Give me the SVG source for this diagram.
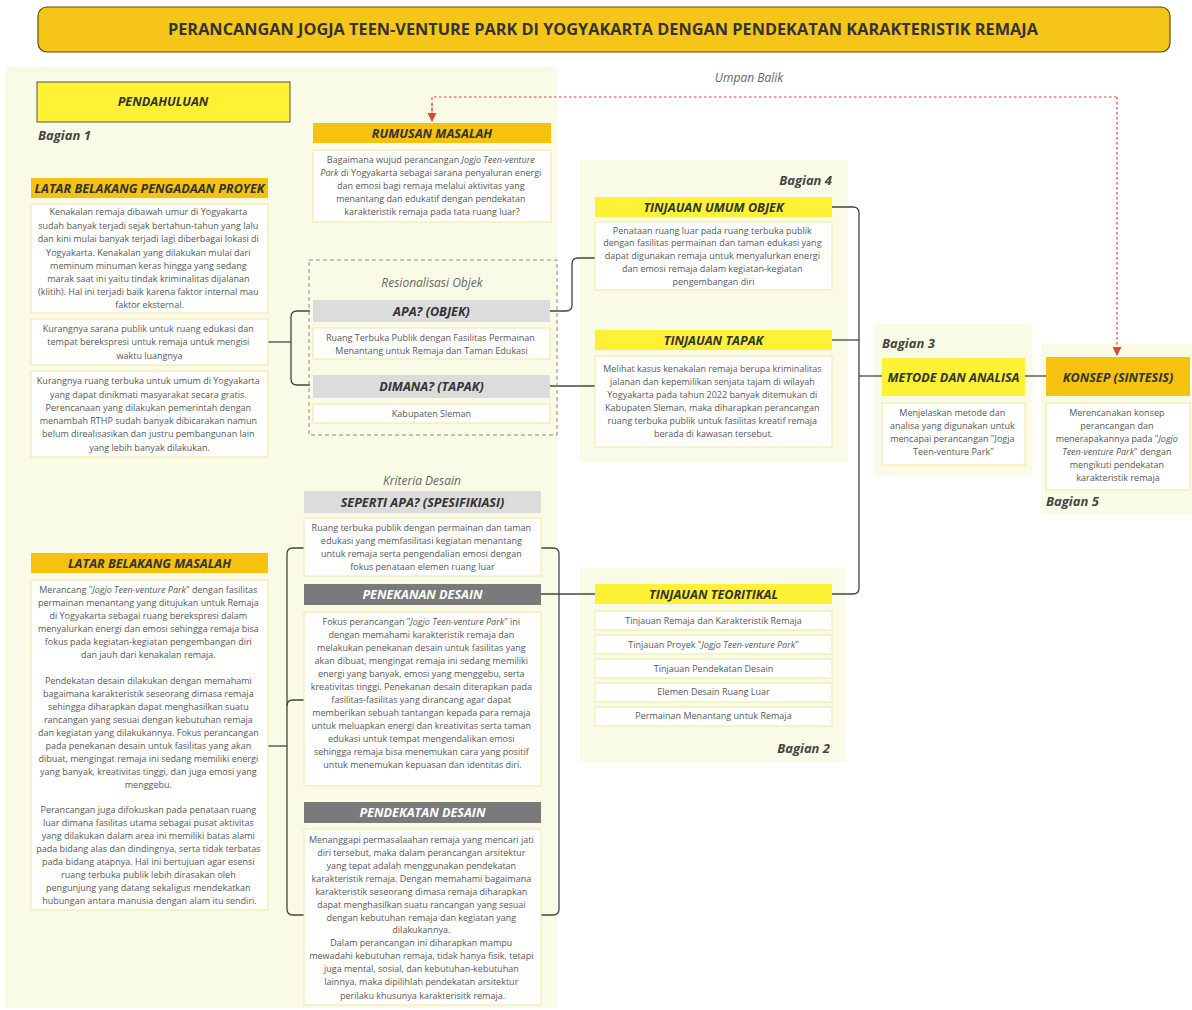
<svg xmlns="http://www.w3.org/2000/svg" width="1192" height="1010" viewBox="0 0 1192 1010">
<defs>
<style>
.panel{fill:#fafbe7}
.hg{fill:#f4c20f}
.hy{fill:#fff133}
.hl{fill:#dcdcdc}
.hd{fill:#7a7a7a}
.body{fill:#ffffff;stroke:#f1e6a6;stroke-width:1}
.ht{font-family:"Open Sans","Liberation Sans",sans-serif;font-weight:bold;font-style:italic;font-size:12.6px;fill:#333;text-anchor:middle}
.htw{fill:#ffffff}
.bt{font-family:"Open Sans","Liberation Sans",sans-serif;font-size:9px;fill:#585858;text-anchor:middle}
.bag{font-family:"Open Sans","Liberation Sans",sans-serif;font-weight:bold;font-style:italic;font-size:13px;fill:#444}
.lbl{font-family:"Open Sans","Liberation Sans",sans-serif;font-style:italic;font-size:12px;fill:#666;text-anchor:middle}
.conn{fill:none;stroke:#444;stroke-width:1.3}
.fb{fill:none;stroke:#e0453a;stroke-width:1.2;stroke-dasharray:2.5 2.5}
</style>
<marker id="redArrow" viewBox="0 0 10 10" refX="9" refY="5" markerWidth="9" markerHeight="9" markerUnits="userSpaceOnUse" orient="auto">
<path d="M0,0 L10,5 L0,10 z" fill="#e0453a"/>
</marker>
</defs>

<rect width="1192" height="1010" fill="#ffffff"/>

<g id="title">
<rect x="38" y="7" width="1132" height="45" rx="9" fill="#f5c518" stroke="#5b4b00" stroke-width="1.2"/>
<text x="603" y="35" font-family="'Open Sans','Liberation Sans',sans-serif" font-weight="bold" font-size="15.5" fill="#333" text-anchor="middle" textLength="870" lengthAdjust="spacingAndGlyphs">PERANCANGAN JOGJA TEEN-VENTURE PARK DI YOGYAKARTA DENGAN PENDEKATAN KARAKTERISTIK REMAJA</text>
</g>

<g id="panels">
<rect class="panel" x="5" y="67" width="552" height="941"/>
<rect class="panel" x="580" y="160" width="268" height="302"/>
<rect class="panel" x="580" y="568" width="265" height="194"/>
<rect class="panel" x="874" y="324" width="159" height="152"/>
<rect class="panel" x="1041" y="344" width="151" height="170"/>
</g>

<g id="connectors">
<path class="conn" d="M268,342 H291"/>
<path class="conn" d="M310,311 H297 Q291,311 291,317 V379 Q291,385 297,385 H310"/>
<path class="conn" d="M550,311 H566 Q572,311 572,305 V264 Q572,258 578,258 H595"/>
<path class="conn" d="M550,386 H595"/>
<path class="conn" d="M832,207 H853 Q859,207 859,213 V588 Q859,594 853,594 H832"/>
<path class="conn" d="M832,340 H859"/>
<path class="conn" d="M859,376 H882"/>
<path class="conn" d="M1025,376 H1046"/>
<path class="conn" d="M268,746 H287"/>
<path class="conn" d="M304,548 H293 Q287,548 287,554 V909 Q287,915 293,915 H304"/>
<path class="conn" d="M304,700 H293 Q287,700 287,706"/>
<path class="conn" d="M541,548 H553 Q559,548 559,554 V909 Q559,915 553,915 H541"/>
<path class="conn" d="M541,594 H595"/>
<path class="fb" d="M432,120 V97 H1117"/>
<path class="fb" d="M432,104 V121" marker-end="url(#redArrow)"/>
<path class="fb" d="M1117,97 V355" marker-end="url(#redArrow)"/>
<text class="lbl" x="749" y="82">Umpan Balik</text>
</g>

<g id="pendahuluan">
<rect x="37" y="82" width="253" height="40" fill="#fff133" stroke="#555" stroke-width="1"/>
<text class="ht" x="163" y="106">PENDAHULUAN</text>
<text class="bag" x="38" y="140">Bagian 1</text>
</g>

<g id="rumusan-masalah">
<rect class="hg" x="313" y="123" width="238" height="20"/>
<text class="ht" x="432" y="137.5">RUMUSAN MASALAH</text>
<rect class="body" x="313" y="150" width="238" height="72"/>
<text class="bt">
<tspan x="432" y="163">Bagaimana wujud perancangan <tspan font-style="italic">Jogjo Teen-venture</tspan></tspan>
<tspan x="432" y="176"><tspan font-style="italic">Park</tspan> di Yogyakarta sebagai sarana penyaluran energi</tspan>
<tspan x="432" y="189">dan emosi bagi remaja melalui aktivitas yang</tspan>
<tspan x="432" y="202">menantang dan edukatif dengan pendekatan</tspan>
<tspan x="432" y="215">karakteristik remaja pada tata ruang luar?</tspan>
</text>
</g>

<g id="latar-pengadaan">
<rect class="hg" x="31" y="178" width="237" height="20"/>
<text class="ht" x="149.5" y="192.5">LATAR BELAKANG PENGADAAN PROYEK</text>
<rect class="body" x="31" y="204" width="237" height="109"/>
<text class="bt">
<tspan x="149.5" y="215">Kenakalan remaja dibawah umur di Yogyakarta</tspan>
<tspan x="149.5" y="229">sudah banyak terjadi sejak bertahun-tahun yang lalu</tspan>
<tspan x="149.5" y="242">dan kini mulai banyak terjadi lagi diberbagai lokasi di</tspan>
<tspan x="149.5" y="256">Yogyakarta. Kenakalan yang dilakukan mulai dari</tspan>
<tspan x="149.5" y="269">meminum minuman keras hingga yang sedang</tspan>
<tspan x="149.5" y="282">marak saat ini yaitu tindak kriminalitas dijalanan</tspan>
<tspan x="149.5" y="295">(klitih). Hal ini terjadi baik karena faktor internal mau</tspan>
<tspan x="149.5" y="308">faktor eksternal.</tspan>
</text>
</g>

<g id="pengadaan-2">
<rect class="body" x="31" y="319" width="237" height="46"/>
<text class="bt">
<tspan x="149.5" y="332">Kurangnya sarana publik untuk ruang edukasi dan</tspan>
<tspan x="149.5" y="345">tempat berekspresi untuk remaja untuk mengisi</tspan>
<tspan x="149.5" y="359">waktu luangnya</tspan>
</text>
</g>

<g id="pengadaan-3">
<rect class="body" x="31" y="371" width="237" height="86"/>
<text class="bt">
<tspan x="149.5" y="384">Kurangnya ruang terbuka untuk umum di Yogyakarta</tspan>
<tspan x="149.5" y="398">yang dapat dinikmati masyarakat secara gratis.</tspan>
<tspan x="149.5" y="411">Perencanaan yang dilakukan pemerintah dengan</tspan>
<tspan x="149.5" y="424">menambah RTHP sudah banyak dibicarakan namun</tspan>
<tspan x="149.5" y="437">belum direalisasikan dan justru pembangunan lain</tspan>
<tspan x="149.5" y="451">yang lebih banyak dilakukan.</tspan>
</text>
</g>

<g id="resionalisasi">
<rect x="309" y="260" width="248" height="175" fill="none" stroke="#888" stroke-width="1" stroke-dasharray="4 3"/>
<text class="lbl" x="432" y="287">Resionalisasi Objek</text>
<rect class="hl" x="313" y="300" width="237" height="22"/>
<text class="ht" x="431.5" y="315.5">APA? (OBJEK)</text>
<rect class="body" x="313" y="328" width="237" height="31"/>
<text class="bt">
<tspan x="431.5" y="341">Ruang Terbuka Publik dengan Fasilitas Permainan</tspan>
<tspan x="431.5" y="354">Menantang untuk Remaja dan Taman Edukasi</tspan>
</text>
<rect class="hl" x="313" y="375" width="237" height="23"/>
<text class="ht" x="431.5" y="391">DIMANA? (TAPAK)</text>
<rect class="body" x="313" y="404" width="237" height="19"/>
<text class="bt"><tspan x="431.5" y="417">Kabupaten Sleman</tspan></text>
</g>

<g id="tinjauan-umum-objek">
<text class="bag" x="832" y="185" text-anchor="end">Bagian 4</text>
<rect class="hy" x="595" y="197" width="237" height="20"/>
<text class="ht" x="713.5" y="211.5">TINJAUAN UMUM OBJEK</text>
<rect class="body" x="595" y="222" width="237" height="68"/>
<text class="bt">
<tspan x="713.5" y="234">Penataan ruang luar pada ruang terbuka publik</tspan>
<tspan x="713.5" y="246">dengan fasilitas permainan dan taman edukasi yang</tspan>
<tspan x="713.5" y="259">dapat digunakan remaja untuk menyalurkan energi</tspan>
<tspan x="713.5" y="272">dan emosi remaja dalam kegiatan-kegiatan</tspan>
<tspan x="713.5" y="285">pengembangan diri</tspan>
</text>
</g>

<g id="tinjauan-tapak">
<rect class="hy" x="595" y="330" width="237" height="20"/>
<text class="ht" x="713.5" y="344.5">TINJAUAN TAPAK</text>
<rect class="body" x="595" y="356" width="237" height="91"/>
<text class="bt">
<tspan x="713.5" y="372">Melihat kasus kenakalan remaja berupa kriminalitas</tspan>
<tspan x="713.5" y="385">jalanan dan kepemilikan senjata tajam di wilayah</tspan>
<tspan x="713.5" y="398">Yogyakarta pada tahun 2022 banyak ditemukan di</tspan>
<tspan x="713.5" y="411">Kabupaten Sleman, maka diharapkan perancangan</tspan>
<tspan x="713.5" y="424">ruang terbuka publik untuk fasilitas kreatif remaja</tspan>
<tspan x="713.5" y="437">berada di kawasan tersebut.</tspan>
</text>
</g>

<g id="tinjauan-teoritikal">
<rect class="hy" x="595" y="584" width="237" height="20"/>
<text class="ht" x="713.5" y="598.5">TINJAUAN TEORITIKAL</text>
<rect class="body" x="595" y="611" width="237" height="19"/>
<text class="bt" x="713.5" y="624">Tinjauan Remaja dan Karakteristik Remaja</text>
<rect class="body" x="595" y="635" width="237" height="19"/>
<text class="bt" x="713.5" y="648">Tinjauan Proyek "<tspan font-style="italic">Jogjo Teen-venture Park</tspan>"</text>
<rect class="body" x="595" y="659" width="237" height="19"/>
<text class="bt" x="713.5" y="672">Tinjauan Pendekatan Desain</text>
<rect class="body" x="595" y="683" width="237" height="19"/>
<text class="bt" x="713.5" y="695">Elemen Desain Ruang Luar</text>
<rect class="body" x="595" y="707" width="237" height="19"/>
<text class="bt" x="713.5" y="719">Permainan Menantang untuk Remaja</text>
<text class="bag" x="830" y="753" text-anchor="end">Bagian 2</text>
</g>

<g id="metode-analisa">
<text class="bag" x="882" y="348">Bagian 3</text>
<rect class="hy" x="882" y="358" width="143" height="38"/>
<text class="ht" x="953.5" y="381.5">METODE DAN ANALISA</text>
<rect class="body" x="882" y="403" width="143" height="62"/>
<text class="bt">
<tspan x="953.5" y="416">Menjelaskan metode dan</tspan>
<tspan x="953.5" y="429">analisa yang digunakan untuk</tspan>
<tspan x="953.5" y="442">mencapai perancangan "Jogja</tspan>
<tspan x="953.5" y="455">Teen-venture Park"</tspan>
</text>
</g>

<g id="konsep-sintesis">
<rect class="hg" x="1046" y="357" width="144" height="39"/>
<text class="ht" x="1118" y="381.5">KONSEP (SINTESIS)</text>
<rect class="body" x="1046" y="403" width="144" height="87"/>
<text class="bt">
<tspan x="1118" y="416">Merencanakan konsep</tspan>
<tspan x="1118" y="429">perancangan dan</tspan>
<tspan x="1118" y="442">menerapakannya pada "<tspan font-style="italic">Jogjo</tspan></tspan>
<tspan x="1118" y="455"><tspan font-style="italic">Teen-venture Park</tspan>" dengan</tspan>
<tspan x="1118" y="468">mengikuti pendekatan</tspan>
<tspan x="1118" y="481">karakteristik remaja</tspan>
</text>
<text class="bag" x="1046" y="506">Bagian 5</text>
</g>

<g id="latar-masalah">
<rect class="hg" x="31" y="553" width="237" height="20"/>
<text class="ht" x="149.5" y="567.5">LATAR BELAKANG MASALAH</text>
<rect class="body" x="31" y="580" width="237" height="330"/>
<text class="bt">
<tspan x="149.5" y="593">Merancang "<tspan font-style="italic">Jogjo Teen-venture Park</tspan>" dengan fasilitas</tspan>
<tspan x="149.5" y="606">permainan menantang yang ditujukan untuk Remaja</tspan>
<tspan x="149.5" y="619">di Yogyakarta sebagai ruang berekspresi dalam</tspan>
<tspan x="149.5" y="632">menyalurkan energi dan emosi sehingga remaja bisa</tspan>
<tspan x="149.5" y="645">fokus pada kegiatan-kegiatan pengembangan diri</tspan>
<tspan x="149.5" y="658">dan jauh dari kenakalan remaja.</tspan>
<tspan x="149.5" y="684">Pendekatan desain dilakukan dengan memahami</tspan>
<tspan x="149.5" y="697">bagaimana karakteristik seseorang dimasa remaja</tspan>
<tspan x="149.5" y="710">sehingga diharapkan dapat menghasilkan suatu</tspan>
<tspan x="149.5" y="723">rancangan yang sesuai dengan kebutuhan remaja</tspan>
<tspan x="149.5" y="736">dan kegiatan yang dilakukannya. Fokus perancangan</tspan>
<tspan x="149.5" y="749">pada penekanan desain untuk fasilitas yang akan</tspan>
<tspan x="149.5" y="762">dibuat, mengingat remaja ini sedang memiliki energi</tspan>
<tspan x="149.5" y="775">yang banyak, kreativitas tinggi, dan juga emosi yang</tspan>
<tspan x="149.5" y="788">menggebu.</tspan>
<tspan x="149.5" y="813">Perancangan juga difokuskan pada penataan ruang</tspan>
<tspan x="149.5" y="826">luar dimana fasilitas utama sebagai pusat aktivitas</tspan>
<tspan x="149.5" y="839">yang dilakukan dalam area ini memiliki batas alami</tspan>
<tspan x="149.5" y="852">pada bidang alas dan dindingnya, serta tidak terbatas</tspan>
<tspan x="149.5" y="865">pada bidang atapnya. Hal ini bertujuan agar esensi</tspan>
<tspan x="149.5" y="878">ruang terbuka publik lebih dirasakan oleh</tspan>
<tspan x="149.5" y="891">pengunjung yang datang sekaligus mendekatkan</tspan>
<tspan x="149.5" y="904">hubungan antara manusia dengan alam itu sendiri.</tspan>
</text>
</g>

<g id="kriteria-seperti-apa">
<text class="lbl" x="422" y="485">Kriteria Desain</text>
<rect class="hl" x="304" y="491" width="237" height="22"/>
<text class="ht" x="422.5" y="506.5">SEPERTI APA? (SPESIFIKIASI)</text>
<rect class="body" x="304" y="518" width="237" height="58"/>
<text class="bt">
<tspan x="422.5" y="531">Ruang terbuka publik dengan permainan dan taman</tspan>
<tspan x="422.5" y="544">edukasi yang memfasilitasi kegiatan menantang</tspan>
<tspan x="422.5" y="557">untuk remaja serta pengendalian emosi dengan</tspan>
<tspan x="422.5" y="570">fokus penataan elemen ruang luar</tspan>
</text>
</g>

<g id="penekanan-desain">
<rect class="hd" x="304" y="584" width="237" height="21"/>
<text class="ht htw" x="422.5" y="599">PENEKANAN DESAIN</text>
<rect class="body" x="304" y="612" width="237" height="174"/>
<text class="bt">
<tspan x="422.5" y="625">Fokus perancangan "<tspan font-style="italic">Jogjo Teen-venture Park</tspan>" ini</tspan>
<tspan x="422.5" y="638">dengan memahami karakteristik remaja dan</tspan>
<tspan x="422.5" y="651">melakukan penekanan desain untuk fasilitas yang</tspan>
<tspan x="422.5" y="664">akan dibuat, mengingat remaja ini sedang memiliki</tspan>
<tspan x="422.5" y="677">energi  yang banyak, emosi yang menggebu, serta</tspan>
<tspan x="422.5" y="690">kreativitas tinggi. Penekanan desain  diterapkan pada</tspan>
<tspan x="422.5" y="703">fasilitas-fasilitas yang dirancang agar dapat</tspan>
<tspan x="422.5" y="716">memberikan sebuah tantangan kepada para remaja</tspan>
<tspan x="422.5" y="729">untuk meluapkan energi dan kreativitas serta taman</tspan>
<tspan x="422.5" y="742">edukasi untuk tempat mengendalikan emosi</tspan>
<tspan x="422.5" y="755">sehingga remaja bisa menemukan cara yang positif</tspan>
<tspan x="422.5" y="768">untuk menemukan kepuasan dan identitas diri.</tspan>
</text>
</g>

<g id="pendekatan-desain">
<rect class="hd" x="304" y="802" width="237" height="21"/>
<text class="ht htw" x="422.5" y="817">PENDEKATAN DESAIN</text>
<rect class="body" x="304" y="829" width="237" height="176"/>
<text class="bt">
<tspan x="422.5" y="843">Menanggapi permasalaahan remaja yang mencari jati</tspan>
<tspan x="422.5" y="856">diri tersebut, maka dalam perancangan arsitektur</tspan>
<tspan x="422.5" y="869">yang tepat adalah menggunakan pendekatan</tspan>
<tspan x="422.5" y="882">karakteristik remaja. Dengan memahami bagaimana</tspan>
<tspan x="422.5" y="895">karakteristik seseorang dimasa remaja  diharapkan</tspan>
<tspan x="422.5" y="908">dapat menghasilkan suatu rancangan yang sesuai</tspan>
<tspan x="422.5" y="921">dengan kebutuhan remaja dan kegiatan yang</tspan>
<tspan x="422.5" y="933">dilakukannya.</tspan>
<tspan x="422.5" y="946">Dalam perancangan ini diharapkan mampu</tspan>
<tspan x="422.5" y="959">mewadahi kebutuhan remaja, tidak hanya fisik, tetapi</tspan>
<tspan x="422.5" y="972">juga mental, sosial, dan kebutuhan-kebutuhan</tspan>
<tspan x="422.5" y="985">lainnya, maka dipilihlah pendekatan arsitektur</tspan>
<tspan x="422.5" y="999">perilaku khusunya karakterisitk remaja.</tspan>
</text>
</g>
</svg>
